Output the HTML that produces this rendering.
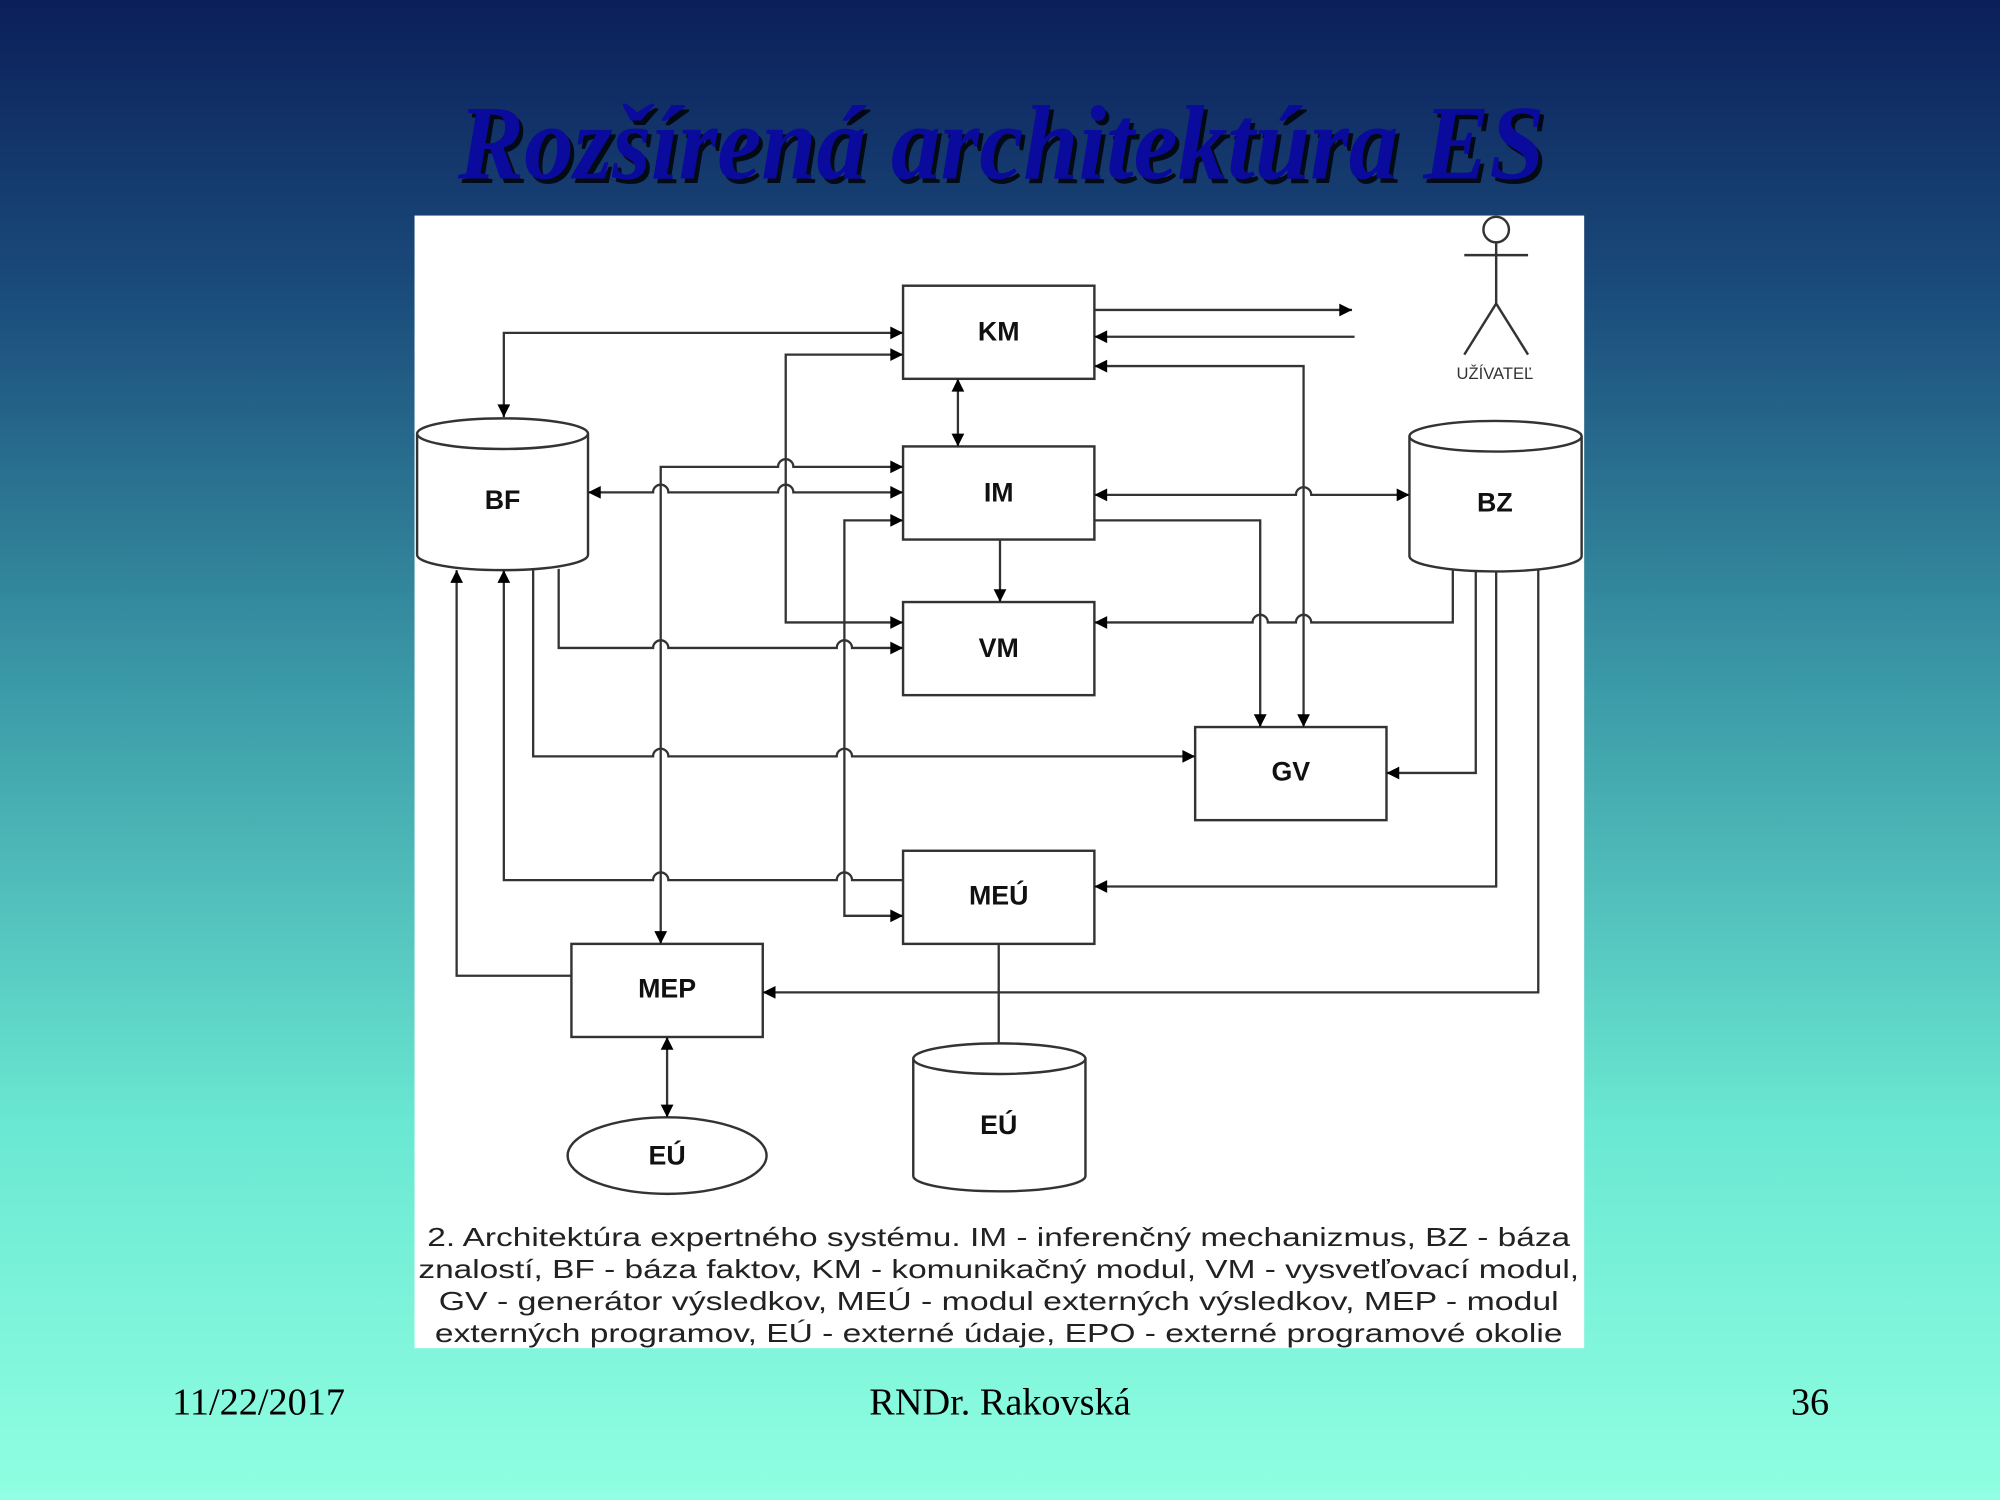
<!DOCTYPE html>
<html><head><meta charset="utf-8">
<style>
html,body{margin:0;padding:0;width:2000px;height:1500px;overflow:hidden}
svg{display:block}
</style></head>
<body>
<svg width="2000" height="1500" viewBox="0 0 1568 1176" xmlns="http://www.w3.org/2000/svg">
<defs>
<linearGradient id="bg" x1="0" y1="0" x2="0" y2="1">
<stop offset="0" stop-color="#0b1f5a"/>
<stop offset="0.2" stop-color="#1b4d7c"/>
<stop offset="0.45" stop-color="#3a98a6"/>
<stop offset="0.75" stop-color="#6ae8d2"/>
<stop offset="1" stop-color="#90ffe2"/>
</linearGradient>
<marker id="a" viewBox="0 0 10 10" refX="10" refY="5" markerWidth="14" markerHeight="10" markerUnits="userSpaceOnUse" orient="auto-start-reverse">
<path d="M0,0 L10,5 L0,10 z" fill="#000"/>
</marker>
</defs>
<rect width="1568" height="1176" fill="url(#bg)"/>
<g transform="translate(0,140) scale(1,1.12) translate(0,-140)">
<text x="788" y="143" text-anchor="middle" font-family="Liberation Serif, serif" font-weight="bold" font-style="italic" font-size="74" fill="#000" textLength="852" lengthAdjust="spacingAndGlyphs" opacity="0.8">Rozšírená architektúra ES</text>
<text x="785" y="140" text-anchor="middle" font-family="Liberation Serif, serif" font-weight="bold" font-style="italic" font-size="74" fill="#0a0a9c" textLength="852" lengthAdjust="spacingAndGlyphs">Rozšírená architektúra ES</text>
</g>
<rect x="325" y="169" width="917" height="888" fill="#fff"/>

<g fill="none" stroke="#333" stroke-width="1.9">
<rect x="708" y="224" width="150" height="73"/>
<rect x="708" y="350" width="150" height="73"/>
<rect x="708" y="472" width="150" height="73"/>
<rect x="937" y="570" width="150" height="73"/>
<rect x="708" y="667" width="150" height="73"/>
<rect x="448" y="740" width="150" height="73"/>
<path d="M327,340 V435 A67,12 0 0 0 461,435 V340" fill="#fff"/>
<ellipse cx="394" cy="340" rx="67" ry="12" fill="#fff"/>
<path d="M1105,342 V436 A67.5,12 0 0 0 1240,436 V342" fill="#fff"/>
<ellipse cx="1172.5" cy="342" rx="67.5" ry="12" fill="#fff"/>
<path d="M716,830 V922 A67.5,12 0 0 0 851,922 V830" fill="#fff"/>
<ellipse cx="783.5" cy="830" rx="67.5" ry="12" fill="#fff"/>
<ellipse cx="523" cy="906" rx="78" ry="30"/>
<circle cx="1173" cy="180" r="10"/>
<path d="M1173,190 V238 M1148,200 H1198 M1173,238 L1148,278 M1173,238 L1198,278"/>
</g>

<g fill="none" stroke="#333" stroke-width="1.8">
<path d="M858,243 H1060" marker-end="url(#a)"/>
<path d="M1062,264 H858" marker-end="url(#a)"/>
<path d="M858,287 H1022 V570" marker-start="url(#a)" marker-end="url(#a)"/>
<path d="M708,261 H395 V327" marker-start="url(#a)" marker-end="url(#a)"/>
<path d="M708,278 H616 V488 H708" marker-start="url(#a)" marker-end="url(#a)"/>
<path d="M751,297 V350" marker-start="url(#a)" marker-end="url(#a)"/>
<path d="M461,386 H512 A6,6 0 0 1 524,386 H610 A6,6 0 0 1 622,386 H708" marker-start="url(#a)" marker-end="url(#a)"/>
<path d="M708,366 H622 A6,6 0 0 0 610,366 H518 V740" marker-start="url(#a)" marker-end="url(#a)"/>
<path d="M858,388 H1016 A6,6 0 0 1 1028,388 H1105" marker-start="url(#a)" marker-end="url(#a)"/>
<path d="M858,408 H988 V570" marker-end="url(#a)"/>
<path d="M784,423 V472" marker-end="url(#a)"/>
<path d="M708,408 H662 V718 H708" marker-start="url(#a)" marker-end="url(#a)"/>
<path d="M1139,447 V488 H1028 A6,6 0 0 0 1016,488 H994 A6,6 0 0 0 982,488 H858" marker-end="url(#a)"/>
<path d="M438,446 V508 H512 A6,6 0 0 1 524,508 H656 A6,6 0 0 1 668,508 H708" marker-end="url(#a)"/>
<path d="M418,446 V593 H512 A6,6 0 0 1 524,593 H656 A6,6 0 0 1 668,593 H937" marker-end="url(#a)"/>
<path d="M1157,447 V606 H1087" marker-end="url(#a)"/>
<path d="M1173,448 V695 H858" marker-end="url(#a)"/>
<path d="M1206,447 V778 H598" marker-end="url(#a)"/>
<path d="M708,690 H668 A6,6 0 0 0 656,690 H524 A6,6 0 0 0 512,690 H395 V447" marker-end="url(#a)"/>
<path d="M448,765 H358 V447" marker-end="url(#a)"/>
<path d="M783,740 V818"/>
<path d="M523,813 V876" marker-start="url(#a)" marker-end="url(#a)"/>
</g>

<g font-family="Liberation Sans, sans-serif" font-weight="bold" font-size="21" fill="#111" text-anchor="middle">
<text x="783" y="267">KM</text>
<text x="783" y="393">IM</text>
<text x="783" y="515">VM</text>
<text x="1012" y="612">GV</text>
<text x="783" y="709">MEÚ</text>
<text x="523" y="782">MEP</text>
<text x="394" y="399">BF</text>
<text x="1172" y="401">BZ</text>
<text x="783" y="889">EÚ</text>
<text x="523" y="913">EÚ</text>
</g>
<text x="1172" y="297" font-family="Liberation Sans, sans-serif" font-size="13" fill="#333" text-anchor="middle">UŽÍVATEĽ</text>

<g font-family="Liberation Sans, sans-serif" font-size="20" fill="#222" text-anchor="middle">
<text x="783" y="977" textLength="896" lengthAdjust="spacingAndGlyphs">2. Architektúra expertného systému. IM - inferenčný mechanizmus, BZ - báza</text>
<text x="783" y="1002" textLength="910" lengthAdjust="spacingAndGlyphs">znalostí, BF - báza faktov, KM - komunikačný modul, VM - vysvetľovací modul,</text>
<text x="783" y="1027" textLength="878" lengthAdjust="spacingAndGlyphs">GV - generátor výsledkov, MEÚ - modul externých  výsledkov, MEP - modul</text>
<text x="783" y="1052" textLength="884" lengthAdjust="spacingAndGlyphs">externých programov, EÚ - externé údaje, EPO - externé programové okolie</text>
</g>

<g font-family="Liberation Serif, serif" font-size="30" fill="#000">
<text x="135" y="1109">11/22/2017</text>
<text x="784" y="1109" text-anchor="middle">RNDr. Rakovská</text>
<text x="1434" y="1109" text-anchor="end">36</text>
</g>
</svg>
</body></html>
